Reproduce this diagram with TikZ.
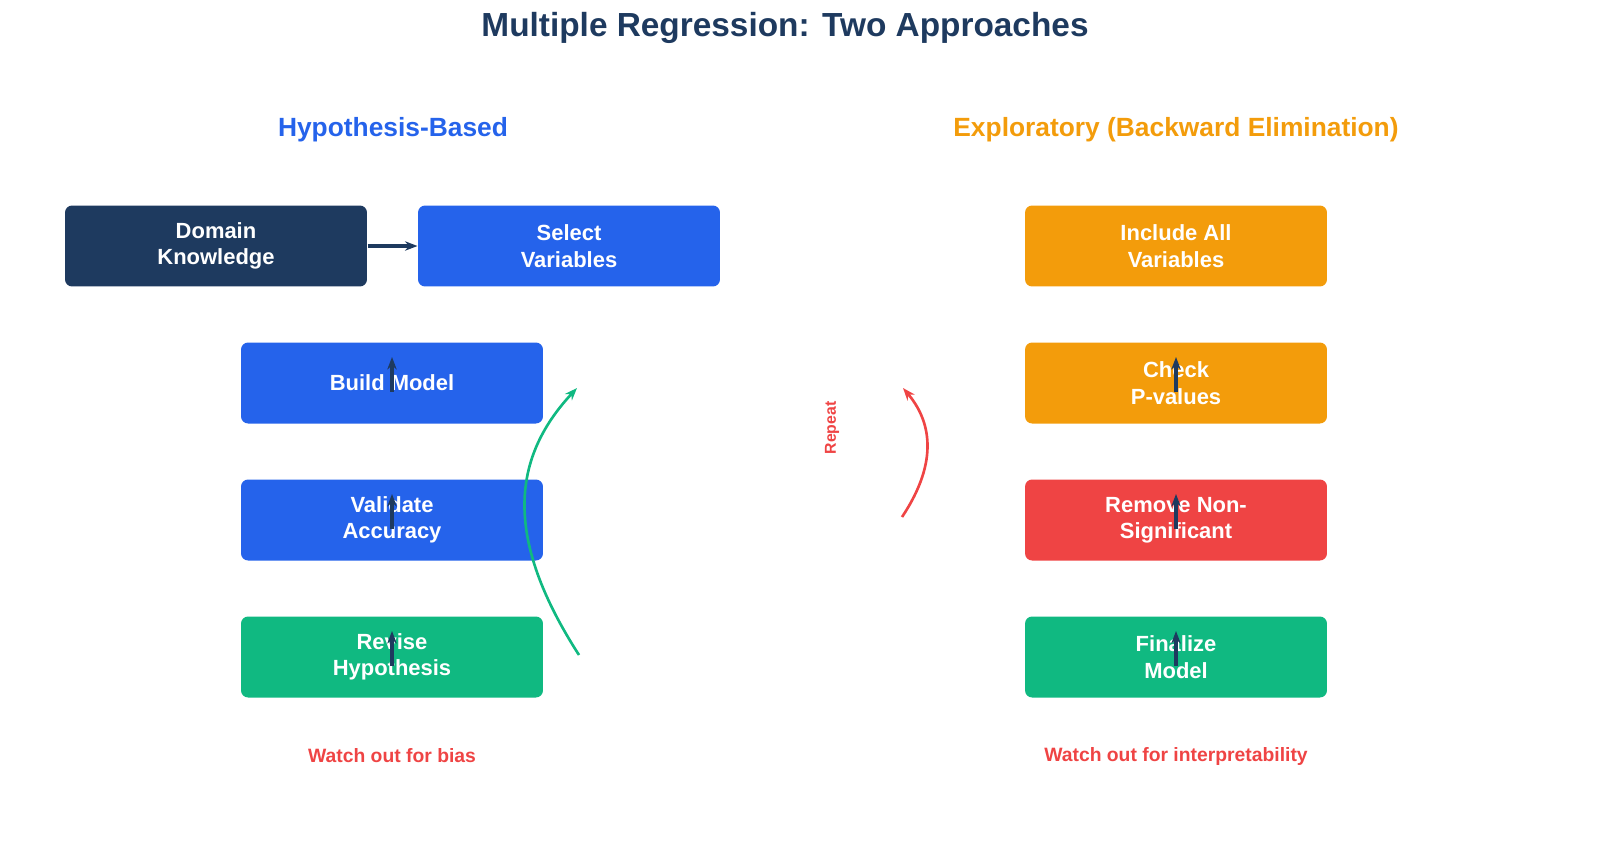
\documentclass[tikz,border=0pt]{standalone}
\usepackage{fontspec}
\setmainfont{Liberation Sans}
\usetikzlibrary{arrows.meta}
\definecolor{navy}{HTML}{1E3A5F}
\definecolor{blu}{HTML}{2563EB}
\definecolor{orng}{HTML}{F39C0B}
\definecolor{rd}{HTML}{EF4444}
\definecolor{grn}{HTML}{10B981}
\begin{document}
\begin{tikzpicture}[x=0.02cm, y=-0.02cm, >={Stealth[length=2.5mm]}, semithick]
    \tikzset{box/.style={rounded corners=4pt, minimum width=6.04cm, minimum height=1.62cm, align=center, text=white, font=\bfseries\fontsize{12.5}{15}\selectfont},
             flow/.style={->, navy, line width=2.2pt, >={Stealth[length=2.5mm]}},
             note/.style={rd, font=\bfseries\fontsize{11}{13}\selectfont}}
    \useasboundingbox (0,0) rectangle (1621,842);
    \node[navy, font=\bfseries\fontsize{19}{22}\selectfont] (title) at (785,28) {Multiple Regression: Two Approaches};
    \node[blu, font=\bfseries\fontsize{15}{18}\selectfont] (hyp) at (393,130) {Hypothesis-Based};
    \node[orng, font=\bfseries\fontsize{15}{18}\selectfont] (exp) at (1176,130) {Exploratory (Backward Elimination)};
    % left side
    \node[box, fill=navy] (domain) at (216,246) {Domain\\Knowledge};
    \node[box, fill=blu] (select) at (569,246) {Select\\Variables};
    \node[box, fill=blu] (build) at (392,383) {Build Model};
    \node[box, fill=blu] (validate) at (392,520) {Validate\\Accuracy};
    \node[box, fill=grn] (revise) at (392,657) {Revise\\Hypothesis};
    \draw[flow] (domain) -- (select);
    \foreach \n in {build, validate, revise}
        \draw[flow] ([yshift=-1.0cm]\n.north) -- ([yshift=-0.3cm]\n.north);
    \coordinate (g1) at (579,655);
    \coordinate (g2) at (577,388);
    \draw[->, grn, line width=1.5pt] (g1) .. controls (505,540) and (510,460) .. (g2);
    \node[note] (bias) at (392,756) {Watch out for bias};
    % right side
    \node[box, fill=orng] (incl) at (1176,246) {Include All\\Variables};
    \node[box, fill=orng] (check) at (1176,383) {Check\\P-values};
    \node[box, fill=rd] (remove) at (1176,520) {Remove Non-\\Significant};
    \node[box, fill=grn] (final) at (1176,657) {Finalize\\Model};
    \foreach \n in {check, remove, final}
        \draw[flow] ([yshift=-1.0cm]\n.north) -- ([yshift=-0.3cm]\n.north);
    \coordinate (r1) at (902,517);
    \coordinate (r2) at (903,388);
    \draw[->, rd, line width=1.5pt] (r1) .. controls (940,460) and (930,420) .. (r2);
    \node[rd, rotate=90, font=\bfseries\fontsize{9}{11}\selectfont] (rep) at (832,428) {Repeat};
    \node[note] (interp) at (1176,756) {Watch out for interpretability};
\end{tikzpicture}
\end{document}
